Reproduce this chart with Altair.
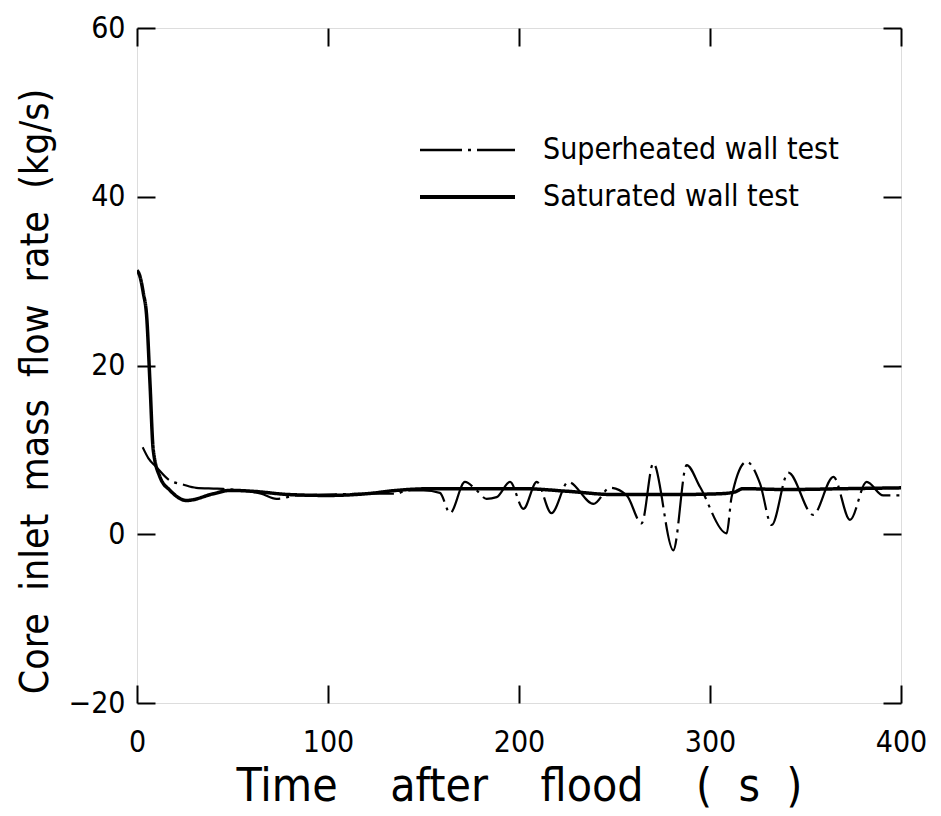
import altair as alt
import pandas as pd

# ---- data ----
series_names = ["Superheated wall test", "Saturated wall test"]

sat_t = [0, 1.5, 3.3, 5.1, 6.8, 8.5, 12, 17.3, 26, 40, 48.7, 60, 80, 100, 120, 136,
         154, 188, 202, 225, 250, 280, 305, 313, 317, 340, 370, 400]
sat_v = [31.3, 30.6, 28.6, 25.7, 17.9, 10.0, 6.8, 5.2, 4.0, 4.8, 5.2, 5.1, 4.7, 4.6,
         4.8, 5.2, 5.4, 5.4, 5.4, 5.1, 4.7, 4.7, 4.8, 5.0, 5.4, 5.3, 5.4, 5.5]

sup_t = [3, 6, 10, 17, 24, 31, 42, 55, 65, 73, 84, 100, 120, 136, 141, 150, 158.6,
         163.9, 171.7, 177.8, 183, 188.3, 195.3, 202.3, 209.3, 217, 225.8, 239,
         247.6, 256.4, 264.2, 270.3, 280.8, 287.8, 294.8, 308.7, 311.3, 319.2,
         326.2, 332.3, 341, 354, 364.6, 373.3, 382, 390.7, 399.5]
sup_v = [10.3, 9.0, 8.0, 6.4, 5.9, 5.5, 5.4, 5.2, 4.8, 4.2, 4.6, 4.7, 4.8, 4.8, 5.2,
         5.2, 4.9, 2.5, 6.2, 5.2, 4.2, 4.4, 6.2, 3.0, 6.2, 2.5, 6.2, 3.6, 5.5, 4.6,
         1.3, 8.4, -1.9, 8.2, 5.6, 0.1, 4.4, 8.6, 6.0, 1.1, 7.3, 2.3, 6.8, 1.7, 6.2,
         4.6, 4.6]

x_ticks = [0, 100, 200, 300, 400]
y_ticks = [-20, 0, 20, 40, 60]

df = pd.concat([
    pd.DataFrame({"t": sup_t, "v": sup_v, "series": series_names[0]}),
    pd.DataFrame({"t": sat_t, "v": sat_v, "series": series_names[1]}),
], ignore_index=True)
legend_df = pd.DataFrame({"series": series_names})

FONT = "DejaVu Sans Condensed, Liberation Sans Narrow, DejaVu Sans"
TICK = 18
SP4 = "\u00a0\u00a0\u00a0\u00a0"
SP2 = "\u00a0\u00a0"
DASH = [42, 6, 3, 6]
SOLID = [1, 0]
W_SUP, W_SAT = 2.2, 3.5

xscale = alt.Scale(domain=[0, 400], nice=False, zero=False)
yscale = alt.Scale(domain=[-20, 60], nice=False, zero=False)

common_axis = dict(offset=-TICK, tickSize=TICK, domain=False, grid=False,
                   tickColor="black", tickWidth=2, labelFont=FONT,
                   labelFontSize=30, labelColor="black", labelFlush=False,
                   titleFont=FONT, titleColor="black", titleFontWeight="normal")

lines = alt.Chart(df).mark_line(interpolate="monotone", color="black", clip=True).encode(
    x=alt.X("t:Q", scale=xscale,
            axis=alt.Axis(orient="bottom", values=x_ticks, labelPadding=24,
                          title="Time" + SP4 + "after" + SP4 + "flood" + SP4 + "(" + SP2 + "s" + SP2 + ")",
                          titleFontSize=46, titleY=101, titleBaseline="middle",
                          **common_axis)),
    y=alt.Y("v:Q", scale=yscale,
            axis=alt.Axis(orient="left", values=y_ticks, labelPadding=12,
                          title="Core" + SP2 + "inlet" + SP2 + "mass" + SP2 + "flow" + SP2 + "rate" + SP2 + "(kg/s)",
                          titleFontSize=39, titleX=-120, titleY=363, titleBaseline="middle",
                          **common_axis)),
    strokeDash=alt.StrokeDash(
        "series:N",
        scale=alt.Scale(domain=series_names, range=[DASH, SOLID]),
        legend=None),
    strokeWidth=alt.StrokeWidth(
        "series:N",
        scale=alt.Scale(domain=series_names, range=[W_SUP, W_SAT]),
        legend=None),
)

frame_axes = alt.Chart(df).mark_line(opacity=0).encode(
    x=alt.X("t:Q", scale=xscale,
            axis=alt.Axis(orient="top", values=x_ticks, labels=False, title=None,
                          offset=-TICK, tickSize=TICK, domain=False, grid=False,
                          tickColor="black", tickWidth=2)),
    y=alt.Y("v:Q", scale=yscale,
            axis=alt.Axis(orient="right", values=y_ticks, labels=False, title=None,
                          offset=-TICK, tickSize=TICK, domain=False, grid=False,
                          tickColor="black", tickWidth=2)),
    detail="series:N",
)

# ---- legend (drawn inside the plot, top right) ----
legend_layers = []
for i, (name, dash, w) in enumerate(zip(series_names, [DASH, SOLID], [W_SUP, W_SAT])):
    ypix = 122 + 47 * i
    src = alt.Chart(legend_df).transform_filter(alt.datum.series == name)
    legend_layers.append(
        src.mark_rule(color="black", strokeWidth=w + 0.3, strokeDash=dash).encode(
            x=alt.value(283), x2=alt.value(378), y=alt.value(ypix)))
    legend_layers.append(
        src.mark_text(align="left", baseline="middle", font=FONT, fontSize=30,
                      color="black").encode(
            x=alt.value(406), y=alt.value(ypix), text="series:N"))

chart = alt.layer(lines, frame_axes, *legend_layers).resolve_axis(
    x="independent", y="independent"
).properties(
    width=764, height=675,
    autosize=alt.AutoSizeParams(type="none"),
    padding={"left": 129, "top": 20, "right": 32, "bottom": 113},
).configure_view(stroke="black", strokeWidth=2.5).configure(background="white")

chart.save("out.html", embed_options={"renderer": "svg", "actions": False})
